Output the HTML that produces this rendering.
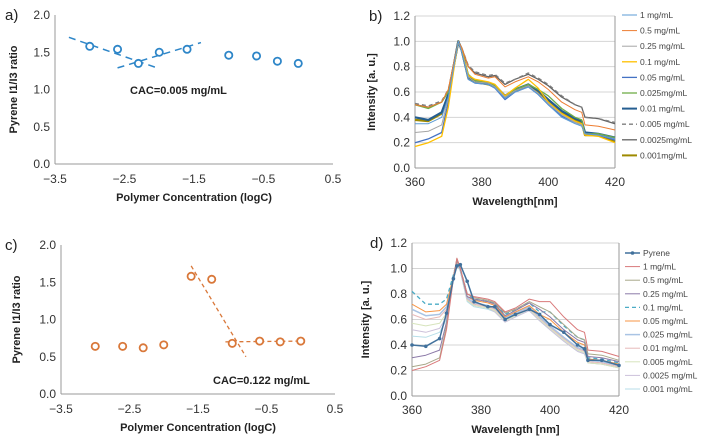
<!DOCTYPE html>
<html><head><meta charset="utf-8"><style>
body{margin:0;background:#fff}
svg{display:block;font-family:"Liberation Sans",sans-serif}
</style></head><body>
<svg id="fig" width="704" height="440" viewBox="0 0 704 440"></svg>
<script>
// ---- data ----
const aX=[-3,-2.6,-2.3,-2,-1.6,-1,-0.6,-0.3,0];
const aY=[1.58,1.54,1.35,1.50,1.54,1.46,1.45,1.38,1.35];
const aFit1=[[-3.3,1.70],[-2.0,1.28]];
const aFit2=[[-2.6,1.29],[-1.4,1.63]];
const cX=[-3,-2.6,-2.3,-2,-1.6,-1.3,-1,-0.6,-0.3,0];
const cY=[0.64,0.64,0.62,0.66,1.58,1.54,0.68,0.71,0.70,0.71];
const cFit1=[[-1.6,1.72],[-0.8,0.50]];
const cFit2=[[-1.1,0.70],[0,0.71]];
const xTicksAC=[-3.5,-2.5,-1.5,-0.5,0.5];
const xTickLabelsAC=["\u22123.5","\u22122.5","\u22121.5","\u22120.5","0.5"];
const yTicksAC=[0,0.5,1,1.5,2];
const wl=[360,364,368,370,372,373,374,376,378,382,384,387,390,394,397,400,404,408,410,411,415,420];
const bNames=["1 mg/mL","0.5 mg/mL","0.25 mg/mL","0.1 mg/mL","0.05 mg/mL","0.025mg/mL","0.01 mg/mL","0.005 mg/mL","0.0025mg/mL","0.001mg/mL"];
const bColors=["#5b9bd5","#ed7d31","#a5a5a5","#ffc000","#4472c4","#70ad47","#255e91","#7f7f7f","#636363","#9e8a00"];
const b1=[0.35,0.35,0.40,0.56,0.86,1.0,0.92,0.70,0.67,0.66,0.63,0.55,0.60,0.64,0.58,0.50,0.40,0.35,0.33,0.27,0.26,0.23];
const b05=[0.50,0.48,0.52,0.62,0.88,1.0,0.95,0.80,0.74,0.71,0.72,0.64,0.68,0.72,0.68,0.62,0.52,0.46,0.44,0.34,0.33,0.30];
const b025=[0.28,0.29,0.34,0.55,0.85,1.0,0.92,0.72,0.68,0.67,0.64,0.56,0.61,0.65,0.59,0.51,0.42,0.36,0.34,0.27,0.26,0.23];
const b01=[0.17,0.20,0.25,0.48,0.84,1.0,0.93,0.73,0.70,0.68,0.66,0.57,0.63,0.70,0.63,0.52,0.43,0.37,0.35,0.26,0.25,0.20];
const b005=[0.20,0.23,0.28,0.52,0.85,1.0,0.92,0.70,0.67,0.66,0.63,0.54,0.60,0.64,0.58,0.50,0.41,0.36,0.34,0.27,0.26,0.22];
const b0025=[0.50,0.47,0.52,0.60,0.86,1.0,0.93,0.74,0.69,0.67,0.65,0.57,0.62,0.66,0.62,0.57,0.47,0.40,0.38,0.27,0.27,0.24];
const b001=[0.40,0.38,0.44,0.58,0.86,1.0,0.93,0.72,0.69,0.67,0.65,0.57,0.62,0.66,0.61,0.54,0.45,0.39,0.37,0.28,0.27,0.24];
const b0005=[0.51,0.49,0.53,0.62,0.87,1.0,0.95,0.81,0.76,0.73,0.74,0.67,0.70,0.75,0.71,0.66,0.57,0.50,0.48,0.40,0.39,0.36];
const b00025=[0.50,0.48,0.52,0.61,0.87,1.0,0.95,0.80,0.75,0.72,0.73,0.66,0.70,0.74,0.70,0.65,0.56,0.50,0.48,0.40,0.39,0.35];
const b0001=[0.38,0.37,0.43,0.57,0.86,1.0,0.93,0.71,0.68,0.66,0.64,0.56,0.61,0.65,0.60,0.53,0.44,0.38,0.36,0.26,0.26,0.21];
const dNames=["Pyrene","1 mg/mL","0.5 mg/mL","0.25 mg/mL","0.1 mg/mL","0.05 mg/mL","0.025 mg/mL","0.01 mg/mL","0.005 mg/mL","0.0025 mg/mL","0.001 mg/mL"];
const dColors=["#41719c","#d9797a","#a8a88a","#8c7aa8","#4bacc6","#f79646","#a9c4e4","#e6b9b8","#d7e4bd","#ccc1da","#b7dee8"];
const dPy=[0.40,0.39,0.45,0.65,0.92,1.02,1.03,0.90,0.74,0.70,0.70,0.60,0.64,0.68,0.64,0.56,0.50,0.40,0.37,0.28,0.28,0.24];
const d1=[0.20,0.23,0.28,0.52,0.92,1.08,1.0,0.80,0.78,0.76,0.74,0.66,0.69,0.76,0.74,0.74,0.62,0.52,0.50,0.36,0.35,0.31];
const d05=[0.23,0.25,0.30,0.55,0.93,1.08,1.0,0.80,0.77,0.75,0.73,0.65,0.68,0.74,0.70,0.66,0.56,0.46,0.44,0.33,0.32,0.28];
const d025=[0.30,0.32,0.36,0.58,0.93,1.07,1.0,0.78,0.76,0.74,0.72,0.63,0.67,0.73,0.68,0.62,0.52,0.44,0.42,0.31,0.30,0.27];
const d01=[0.82,0.72,0.72,0.76,0.95,1.06,1.0,0.80,0.76,0.74,0.73,0.64,0.68,0.73,0.66,0.66,0.55,0.46,0.44,0.30,0.29,0.26];
const d005=[0.72,0.66,0.67,0.72,0.94,1.06,1.0,0.78,0.75,0.73,0.71,0.62,0.66,0.71,0.64,0.60,0.50,0.42,0.40,0.29,0.28,0.25];
const d0025=[0.68,0.63,0.64,0.70,0.93,1.05,0.99,0.77,0.73,0.71,0.69,0.61,0.65,0.70,0.62,0.55,0.46,0.38,0.36,0.28,0.27,0.24];
const d001=[0.64,0.60,0.62,0.68,0.93,1.05,0.99,0.76,0.72,0.70,0.68,0.60,0.64,0.69,0.61,0.54,0.45,0.37,0.35,0.27,0.26,0.23];
const d0005=[0.57,0.55,0.57,0.65,0.92,1.04,0.98,0.75,0.71,0.69,0.67,0.59,0.63,0.68,0.60,0.53,0.44,0.36,0.34,0.26,0.25,0.22];
const d00025=[0.52,0.50,0.53,0.62,0.92,1.04,0.98,0.75,0.71,0.69,0.66,0.58,0.62,0.67,0.59,0.52,0.43,0.35,0.33,0.26,0.25,0.22];
const d0001=[0.47,0.46,0.50,0.60,0.91,1.03,0.98,0.74,0.70,0.68,0.66,0.58,0.62,0.67,0.59,0.52,0.43,0.35,0.33,0.26,0.25,0.22];
const specTicks=[360,380,400,420];
const specYTicks=[0,0.2,0.4,0.6,0.8,1.0,1.2];

const NS="http://www.w3.org/2000/svg";
const svg=document.getElementById("fig");
function mk(tag,attrs,parent,text){const e=document.createElementNS(NS,tag);for(const k in attrs)e.setAttribute(k,attrs[k]);if(text!==undefined)e.textContent=text;(parent||svg).appendChild(e);return e;}
function scale(d0,d1,r0,r1){return v=>r0+(v-d0)*(r1-r0)/(d1-d0);}

function scatterPanel(o){
  const g=mk("g",{});
  
  
  const X=scale(-3.5,0.5,o.x0,o.x1),Y=scale(0,2,o.y0,o.y1);
  mk("line",{x1:o.x0,y1:o.y0,x2:o.x1,y2:o.y0,stroke:"#999"},g);
  mk("line",{x1:o.x0,y1:o.y0,x2:o.x0,y2:o.y1,stroke:"#999"},g);
  yTicksAC.forEach(t=>{const tx=mk("text",{x:o.x0-5,y:Y(t)+4,"text-anchor":"end","font-size":12,fill:"#333"},g,t.toFixed(1));
    });
  xTicksAC.forEach((t,i)=>{const tx=mk("text",{x:X(t),y:o.y0+19,"text-anchor":"middle","font-size":12,fill:"#333"},g,xTickLabelsAC[i]);
    });
  [o.fit1,o.fit2].forEach(f=>{const l=mk("line",{x1:X(f[0][0]),y1:Y(f[0][1]),x2:X(f[1][0]),y2:Y(f[1][1]),stroke:o.color,"stroke-width":o.fw,"stroke-dasharray":o.dash},g);
    });
  o.xs.forEach((x,i)=>{const c=mk("circle",{cx:X(x),cy:Y(o.ys[i]),r:3.6,fill:"#fff",stroke:o.color,"stroke-width":1.8},g);
    });
  const yt=mk("text",{transform:`translate(${o.ytx},${(o.y0+o.y1)/2}) rotate(-90)`,"text-anchor":"middle","font-size":11,"font-weight":"bold",fill:"#222"},g,"Pyrene I1/I3 ratio");
  
  const xt=mk("text",{x:(o.x0+o.x1)/2,y:o.y0+37,"text-anchor":"middle","font-size":11,"font-weight":"bold",fill:"#222"},g,"Polymer Concentration (logC)");
  
  const ct=mk("text",{x:o.cacx,y:o.cacy,"font-size":11,"font-weight":"bold",fill:"#222"},g,o.cac);
  
  const pl=mk("text",{x:5,y:o.y1+5,"font-size":15,fill:"#222"},g,o.label);
  
}

function specPanel(o){
  const g=mk("g",{});
  
  
  const X=scale(360,420,o.x0,o.x1),Y=scale(0,1.2,o.y0,o.y1);
  specYTicks.forEach(t=>{
    if(t>0){const gl=mk("line",{x1:o.x0,y1:Y(t),x2:o.x1,y2:Y(t),stroke:"#d4d4d4"},g);
      }
    const tx=mk("text",{x:o.x0-5,y:Y(t)+4,"text-anchor":"end","font-size":12,fill:"#333"},g,t.toFixed(1));
    });
  specTicks.forEach(t=>{const tx=mk("text",{x:X(t),y:o.y0+18,"text-anchor":"middle","font-size":12,fill:"#333"},g,String(t));
    });
  mk("line",{x1:o.x0,y1:o.y0,x2:o.x1,y2:o.y0,stroke:"#999"},g);
  mk("line",{x1:o.x0,y1:o.y0,x2:o.x0,y2:o.y1,stroke:"#999"},g);
  mk("line",{x1:o.x1,y1:o.y0,x2:o.x1,y2:o.y1,stroke:"#999"},g);
  for(let i=o.series.length-1;i>=0;i--){
    const s=o.series[i];
    const pts=wl.map((w,j)=>X(w).toFixed(1)+","+Y(s[j]).toFixed(1)).join(" ");
    const p=mk("polyline",{points:pts,fill:"none",stroke:o.colors[i],"stroke-width":o.widths[i],"stroke-dasharray":o.dashes[i]||"none","stroke-linejoin":"round"},g);
    
    if(o.markers&&o.markers[i]){wl.forEach((w,j)=>{const m=mk("circle",{cx:X(w),cy:Y(s[j]),r:1.8,fill:o.colors[i]},g);
      });}
  }
  o.names.forEach((n,i)=>{
    const y=o.ly0+i*o.lgap;
    const lg=mk("g",{},g);
    
    mk("line",{x1:o.lx,y1:y,x2:o.lx+15,y2:y,stroke:o.colors[i],"stroke-width":Math.min(o.widths[i],2),"stroke-dasharray":o.dashes[i]||"none"},lg);
    if(o.markers&&o.markers[i])mk("circle",{cx:o.lx+7.5,cy:y,r:1.8,fill:o.colors[i]},lg);
    mk("text",{x:o.lx+18,y:y+3,"font-size":8.5,fill:"#444"},lg,n);
  });
  const yt=mk("text",{transform:`translate(${o.ytx},${(o.y0+o.y1)/2}) rotate(-90)`,"text-anchor":"middle","font-size":11,"font-weight":"bold",fill:"#222"},g,"Intensity [a. u.]");
  
  const xt=mk("text",{x:(o.x0+o.x1)/2,y:o.y0+37,"text-anchor":"middle","font-size":11,"font-weight":"bold",fill:"#222"},g,o.xtitle);
  
  const pl=mk("text",{x:o.plx,y:o.y1+5,"font-size":15,fill:"#222"},g,o.label);
  
}

scatterPanel({name:"panel-a",x0:55,x1:333,y0:164,y1:15,xs:aX,ys:aY,fit1:aFit1,fit2:aFit2,color:"#2e86c8",fw:1.5,dash:"7,5",ytx:17,cac:"CAC=0.005 mg/mL",cacx:130,cacy:94,label:"a)"});
scatterPanel({name:"panel-c",x0:61,x1:335,y0:394,y1:245,xs:cX,ys:cY,fit1:cFit1,fit2:cFit2,color:"#d9783a",fw:1.3,dash:"4,3",ytx:20,cac:"CAC=0.122 mg/mL",cacx:213,cacy:384,label:"c)"});
specPanel({name:"panel-b",x0:415,x1:615,y0:168,y1:16,series:[b1,b05,b025,b01,b005,b0025,b001,b0005,b00025,b0001],
  colors:bColors,widths:[1,1,1,1.3,1.3,1.3,2.2,1.3,1.3,2.2],dashes:[0,0,0,0,0,0,0,"4,3",0,0],
  names:bNames,lx:622,ly0:15,lgap:15.6,ytx:375,xtitle:"Wavelength[nm]",plx:369,label:"b)"});
specPanel({name:"panel-d",x0:412,x1:619,y0:396,y1:243,series:[dPy,d1,d05,d025,d01,d005,d0025,d001,d0005,d00025,d0001],
  colors:dColors,widths:[1.5,1,1,1,1.3,1,1.5,1,1,1,1],dashes:[0,0,0,0,"4,3",0,0,0,0,0,0],markers:[true],
  names:dNames,lx:625,ly0:253,lgap:13.6,ytx:369,xtitle:"Wavelength [nm]",plx:370,label:"d)"});
</script>
</body></html>
